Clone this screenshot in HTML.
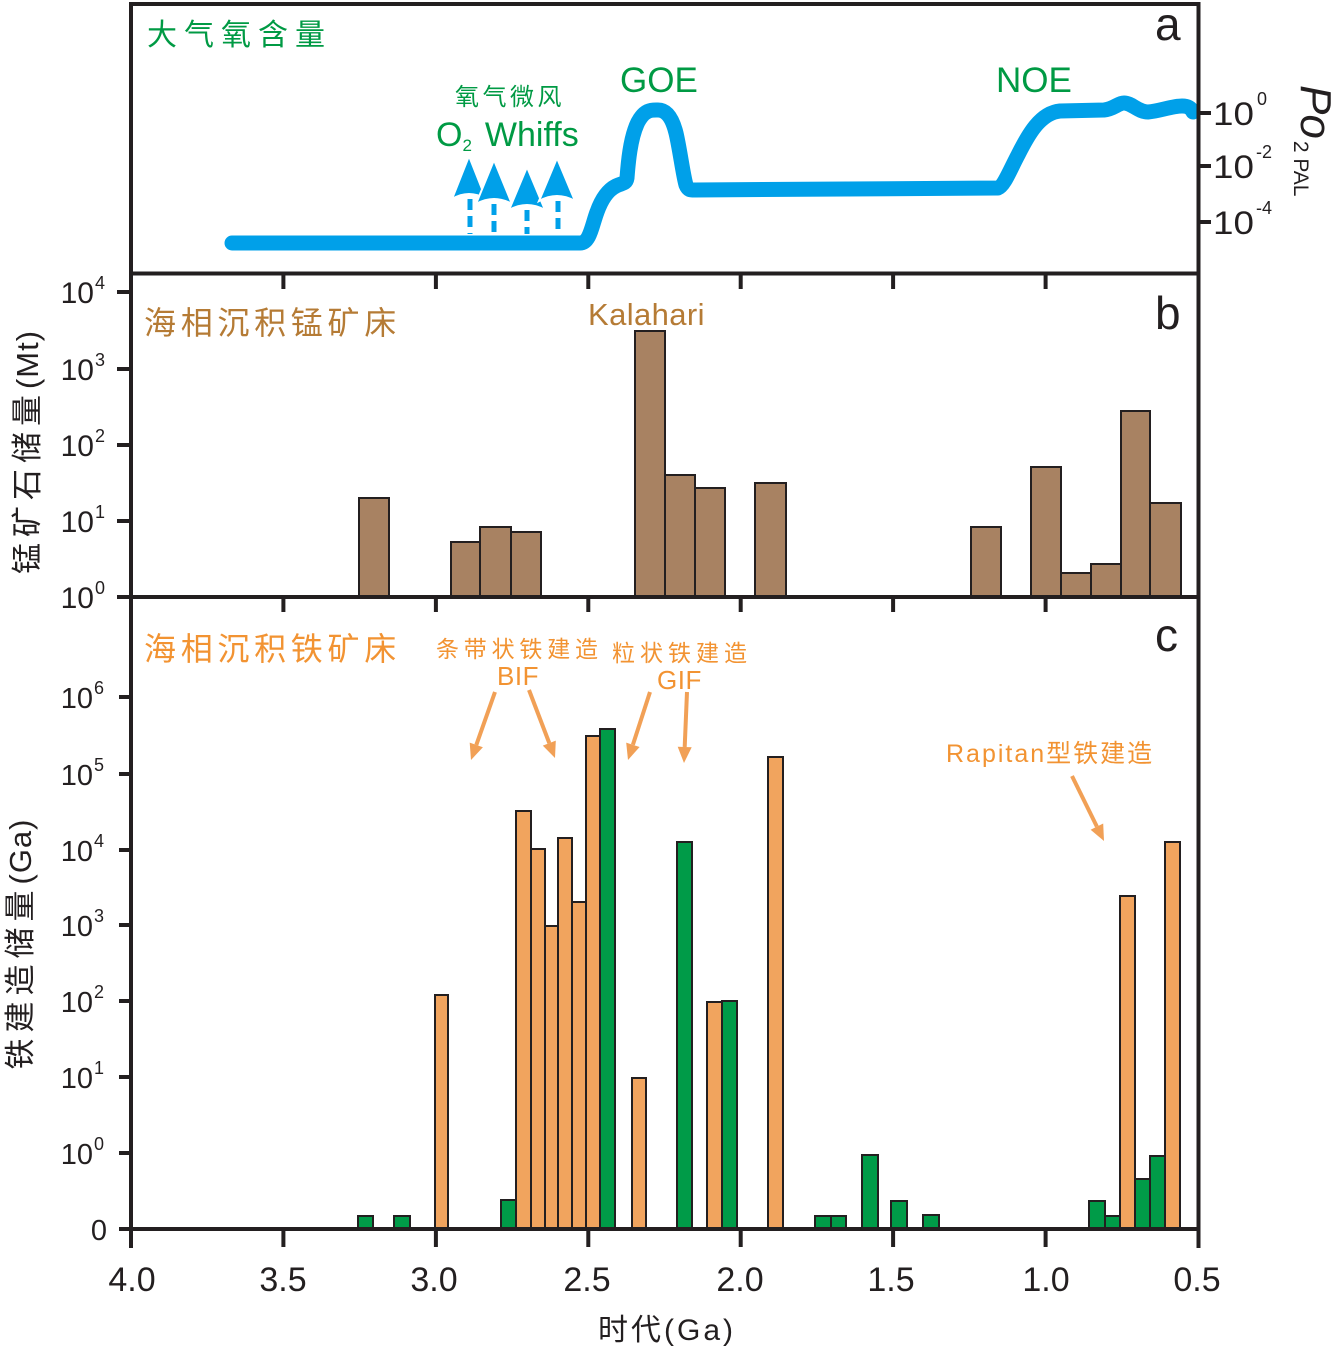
<!DOCTYPE html>
<html>
<head>
<meta charset="utf-8">
<style>
  html,body{margin:0;padding:0;background:#fff;}
  svg{display:block;}
  text{font-family:"Liberation Sans","Noto Sans CJK SC",sans-serif;}
  .cjk{font-family:"Liberation Sans","Noto Sans CJK SC",sans-serif;}
</style>
</head>
<body>
<svg width="1336" height="1348" viewBox="0 0 1336 1348" xmlns="http://www.w3.org/2000/svg">
  <rect width="1336" height="1348" fill="#fff"/>

  <!-- ===== Panel a ===== -->
  <g stroke="#00a0e9" stroke-width="5" stroke-dasharray="11,6" fill="none">
    <line x1="470" y1="199" x2="470" y2="234"/>
    <line x1="494" y1="204" x2="494" y2="234"/>
    <line x1="527" y1="210" x2="527" y2="234"/>
    <line x1="558" y1="201" x2="558" y2="234"/>
  </g>
  <g fill="#00a0e9" stroke="#fff" stroke-width="2" stroke-linejoin="miter">
    <path d="M469,156 L486,199 Q469,189 452,199 Z"/>
    <path d="M494,160 L512,204 Q494,194 476,204 Z"/>
    <path d="M527,167 L545,210 Q527,200 509,210 Z"/>
    <path d="M557,158 L575,201 Q557,191 539,201 Z"/>
  </g>
  <path d="M232,243 L580,243 C590,243 592,225 597,212 C602,198 608,190 616,186 C622,183 626,184 627,178 C628,165 630,138 638,122 C645,109 652,110 658,110 C666,110 672,117 676,133 C680,150 683,175 686,185 C688,190 690,190 695,190 L998,188 C1004,186 1010,170 1018,155 C1028,135 1040,113 1060,111 L1104,110 C1114,109 1118,103 1124,103 C1132,103 1138,112 1148,112 C1160,111 1172,106 1182,106 C1190,106 1192,110 1193,112"
        fill="none" stroke="#00a0e9" stroke-width="15" stroke-linecap="round" stroke-linejoin="round"/>

  <text x="147" y="45" font-size="30" fill="#009a44" letter-spacing="7" class="cjk">大气氧含量</text>
  <text x="455" y="105" font-size="24" fill="#009a44" letter-spacing="3.5" class="cjk">氧气微风</text>
  <text x="436" y="146" font-size="34" fill="#009a44">O<tspan font-size="17" dy="5">2</tspan><tspan dy="-5" dx="13">Whiffs</tspan></text>
  <text x="620" y="92" font-size="35" fill="#009a44">GOE</text>
  <text x="996" y="92" font-size="35" fill="#009a44">NOE</text>
  <text x="1155" y="40" font-size="46" fill="#231f20">a</text>

  <!-- right axis panel a -->
  <g stroke="#231f20" stroke-width="4">
    <line x1="1198" y1="113" x2="1211" y2="113"/>
    <line x1="1198" y1="166" x2="1211" y2="166"/>
    <line x1="1198" y1="222" x2="1211" y2="222"/>
  </g>
  <g fill="#231f20">
    <text transform="translate(1213,125) scale(1.15,1)" font-size="32">10</text>
    <text x="1257" y="105" font-size="18">0</text>
    <text transform="translate(1213,178) scale(1.15,1)" font-size="32">10</text>
    <text x="1256" y="158" font-size="18">-2</text>
    <text transform="translate(1213,234) scale(1.15,1)" font-size="32">10</text>
    <text x="1256" y="214" font-size="18">-4</text>
    <text transform="translate(1301,85) rotate(90)" font-size="44" font-style="italic">Po<tspan font-size="21" font-style="normal" dy="7" dx="2">2 PAL</tspan></text>
  </g>

  <!-- ===== Panel b bars ===== -->
  <g fill="#a88262" stroke="#231f20" stroke-width="2">
    <rect x="359" y="498" width="30" height="99"/>
    <rect x="451" y="542" width="29" height="55"/>
    <rect x="480" y="527" width="31" height="70"/>
    <rect x="511" y="532" width="30" height="65"/>
    <rect x="635" y="331" width="30" height="266"/>
    <rect x="665" y="475" width="30" height="122"/>
    <rect x="695" y="488" width="30" height="109"/>
    <rect x="755" y="483" width="31" height="114"/>
    <rect x="971" y="527" width="30" height="70"/>
    <rect x="1031" y="467" width="30" height="130"/>
    <rect x="1061" y="573" width="30" height="24"/>
    <rect x="1091" y="564" width="30" height="33"/>
    <rect x="1121" y="411" width="29" height="186"/>
    <rect x="1150" y="503" width="31" height="94"/>
  </g>
  <text x="144" y="334" font-size="32" fill="#b57b35" letter-spacing="4.7" class="cjk">海相沉积锰矿床</text>
  <text x="588" y="325" font-size="31" fill="#b57b35" letter-spacing="0.4">Kalahari</text>
  <text x="1155" y="329" font-size="46" fill="#231f20">b</text>

  <g stroke="#231f20" stroke-width="4">
    <line x1="117" y1="292" x2="131" y2="292"/>
    <line x1="117" y1="369" x2="131" y2="369"/>
    <line x1="117" y1="445" x2="131" y2="445"/>
    <line x1="117" y1="521" x2="131" y2="521"/>
    <line x1="117" y1="597" x2="131" y2="597"/>
  </g>
  <g fill="#231f20">
    <text x="94" y="303" font-size="30" text-anchor="end">10</text><text x="95" y="289" font-size="18">4</text>
    <text x="94" y="380" font-size="30" text-anchor="end">10</text><text x="95" y="366" font-size="18">3</text>
    <text x="94" y="456" font-size="30" text-anchor="end">10</text><text x="95" y="442" font-size="18">2</text>
    <text x="94" y="532" font-size="30" text-anchor="end">10</text><text x="95" y="518" font-size="18">1</text>
    <text x="94" y="608" font-size="30" text-anchor="end">10</text><text x="95" y="594" font-size="18">0</text>
  </g>
  <text transform="translate(27,452) rotate(-90)" font-size="31" fill="#231f20" text-anchor="middle" dominant-baseline="central" class="cjk"><tspan letter-spacing="6">锰矿石储量</tspan><tspan letter-spacing="1">(Mt)</tspan></text>

  <!-- ===== Panel c bars ===== -->
  <g stroke="#231f20" stroke-width="2">
    <rect x="358" y="1216" width="15" height="13" fill="#009b48"/>
    <rect x="394" y="1216" width="16" height="13" fill="#009b48"/>
    <rect x="435" y="995" width="13" height="234" fill="#f1a45e"/>
    <rect x="501" y="1200" width="15" height="29" fill="#009b48"/>
    <rect x="516" y="811" width="15" height="418" fill="#f1a45e"/>
    <rect x="531" y="849" width="14" height="380" fill="#f1a45e"/>
    <rect x="545" y="926" width="13" height="303" fill="#f1a45e"/>
    <rect x="558" y="838" width="14" height="391" fill="#f1a45e"/>
    <rect x="572" y="902" width="14" height="327" fill="#f1a45e"/>
    <rect x="586" y="736" width="14" height="493" fill="#f1a45e"/>
    <rect x="600" y="729" width="15" height="500" fill="#009b48"/>
    <rect x="632" y="1078" width="14" height="151" fill="#f1a45e"/>
    <rect x="677" y="842" width="15" height="387" fill="#009b48"/>
    <rect x="707" y="1002" width="15" height="227" fill="#f1a45e"/>
    <rect x="722" y="1001" width="15" height="228" fill="#009b48"/>
    <rect x="768" y="757" width="15" height="472" fill="#f1a45e"/>
    <rect x="815" y="1216" width="16" height="13" fill="#009b48"/>
    <rect x="831" y="1216" width="15" height="13" fill="#009b48"/>
    <rect x="862" y="1155" width="16" height="74" fill="#009b48"/>
    <rect x="891" y="1201" width="16" height="28" fill="#009b48"/>
    <rect x="923" y="1215" width="16" height="14" fill="#009b48"/>
    <rect x="1089" y="1201" width="16" height="28" fill="#009b48"/>
    <rect x="1105" y="1216" width="15" height="13" fill="#009b48"/>
    <rect x="1120" y="896" width="15" height="333" fill="#f1a45e"/>
    <rect x="1135" y="1179" width="15" height="50" fill="#009b48"/>
    <rect x="1150" y="1156" width="15" height="73" fill="#009b48"/>
    <rect x="1165" y="842" width="15" height="387" fill="#f1a45e"/>
  </g>

  <text x="144" y="660" font-size="32" fill="#f29332" letter-spacing="4.7" class="cjk">海相沉积铁矿床</text>
  <text x="1155" y="651" font-size="46" fill="#231f20">c</text>
  <g fill="#f29332">
    <text x="436" y="657" font-size="23" letter-spacing="4.8" class="cjk">条带状铁建造</text>
    <text x="497" y="685" font-size="26" letter-spacing="0.5">BIF</text>
    <text x="612" y="661" font-size="23" letter-spacing="5" class="cjk">粒状铁建造</text>
    <text x="657" y="689" font-size="26" letter-spacing="0.5">GIF</text>
    <text x="946" y="762" font-size="25" letter-spacing="2" class="cjk">Rapitan型铁建造</text>
  </g>
  <g stroke="#f1a056" stroke-width="4" fill="none">
    <line x1="495" y1="692" x2="476.3" y2="744.9"/>
    <line x1="529" y1="690" x2="549.3" y2="743.1"/>
    <line x1="650" y1="692" x2="632.9" y2="744.8"/>
    <line x1="687" y1="692" x2="684.7" y2="747"/>
    <line x1="1072" y1="776" x2="1096.9" y2="826.6"/>
  </g>
  <g fill="#f1a056">
    <polygon points="471,760 482.9,747.2 469.7,742.6"/>
    <polygon points="555,758 555.8,740.6 542.8,745.6"/>
    <polygon points="628,760 639.6,747 626.2,742.6"/>
    <polygon points="684,763 691.7,747.3 677.7,746.7"/>
    <polygon points="1104,841 1103.2,823.5 1090.6,829.7"/>
  </g>

  <g stroke="#231f20" stroke-width="4">
    <line x1="119" y1="697" x2="131" y2="697"/>
    <line x1="119" y1="774" x2="131" y2="774"/>
    <line x1="119" y1="850" x2="131" y2="850"/>
    <line x1="119" y1="925" x2="131" y2="925"/>
    <line x1="119" y1="1001" x2="131" y2="1001"/>
    <line x1="119" y1="1077" x2="131" y2="1077"/>
    <line x1="119" y1="1153" x2="131" y2="1153"/>
    <line x1="119" y1="1229" x2="131" y2="1229"/>
  </g>
  <g fill="#231f20">
    <text x="93" y="708" font-size="29" text-anchor="end">10</text><text x="94" y="694" font-size="18">6</text>
    <text x="93" y="785" font-size="29" text-anchor="end">10</text><text x="94" y="771" font-size="18">5</text>
    <text x="93" y="861" font-size="29" text-anchor="end">10</text><text x="94" y="847" font-size="18">4</text>
    <text x="93" y="936" font-size="29" text-anchor="end">10</text><text x="94" y="922" font-size="18">3</text>
    <text x="93" y="1012" font-size="29" text-anchor="end">10</text><text x="94" y="998" font-size="18">2</text>
    <text x="93" y="1088" font-size="29" text-anchor="end">10</text><text x="94" y="1074" font-size="18">1</text>
    <text x="93" y="1164" font-size="29" text-anchor="end">10</text><text x="94" y="1150" font-size="18">0</text>
    <text x="107" y="1240" font-size="29" text-anchor="end">0</text>
  </g>
  <text transform="translate(20,944) rotate(-90)" font-size="31" fill="#231f20" text-anchor="middle" dominant-baseline="central" class="cjk"><tspan letter-spacing="6">铁建造储量</tspan><tspan letter-spacing="1">(Ga)</tspan></text>

  <!-- ===== Frame & ticks ===== -->
  <g stroke="#231f20" stroke-width="4" fill="none">
    <line x1="131" y1="4" x2="1198.5" y2="4"/>
    <line x1="131" y1="273.5" x2="1198.5" y2="273.5"/>
    <line x1="131" y1="597" x2="1198.5" y2="597"/>
    <line x1="131" y1="1229" x2="1198.5" y2="1229"/>
    <line x1="131" y1="2" x2="131" y2="1248"/>
    <line x1="1198.5" y1="2" x2="1198.5" y2="1248"/>
    <line x1="283.4" y1="273" x2="283.4" y2="289"/>
    <line x1="435.9" y1="273" x2="435.9" y2="289"/>
    <line x1="588.3" y1="273" x2="588.3" y2="289"/>
    <line x1="740.7" y1="273" x2="740.7" y2="289"/>
    <line x1="893.1" y1="273" x2="893.1" y2="289"/>
    <line x1="1045.6" y1="273" x2="1045.6" y2="289"/>
    <line x1="283.4" y1="597" x2="283.4" y2="612"/>
    <line x1="435.9" y1="597" x2="435.9" y2="612"/>
    <line x1="588.3" y1="597" x2="588.3" y2="612"/>
    <line x1="740.7" y1="597" x2="740.7" y2="612"/>
    <line x1="893.1" y1="597" x2="893.1" y2="612"/>
    <line x1="1045.6" y1="597" x2="1045.6" y2="612"/>
    <line x1="283.4" y1="1229" x2="283.4" y2="1247"/>
    <line x1="435.9" y1="1229" x2="435.9" y2="1247"/>
    <line x1="588.3" y1="1229" x2="588.3" y2="1247"/>
    <line x1="740.7" y1="1229" x2="740.7" y2="1247"/>
    <line x1="893.1" y1="1229" x2="893.1" y2="1247"/>
    <line x1="1045.6" y1="1229" x2="1045.6" y2="1247"/>
  </g>

  <g fill="#231f20" font-size="34" text-anchor="middle">
    <text x="132" y="1291">4.0</text>
    <text x="283" y="1291">3.5</text>
    <text x="434" y="1291">3.0</text>
    <text x="587" y="1291">2.5</text>
    <text x="740" y="1291">2.0</text>
    <text x="891" y="1291">1.5</text>
    <text x="1046" y="1291">1.0</text>
    <text x="1197" y="1291">0.5</text>
  </g>
  <text x="667" y="1340" font-size="30" fill="#231f20" text-anchor="middle" letter-spacing="3" class="cjk">时代(Ga)</text>
</svg>
</body>
</html>
